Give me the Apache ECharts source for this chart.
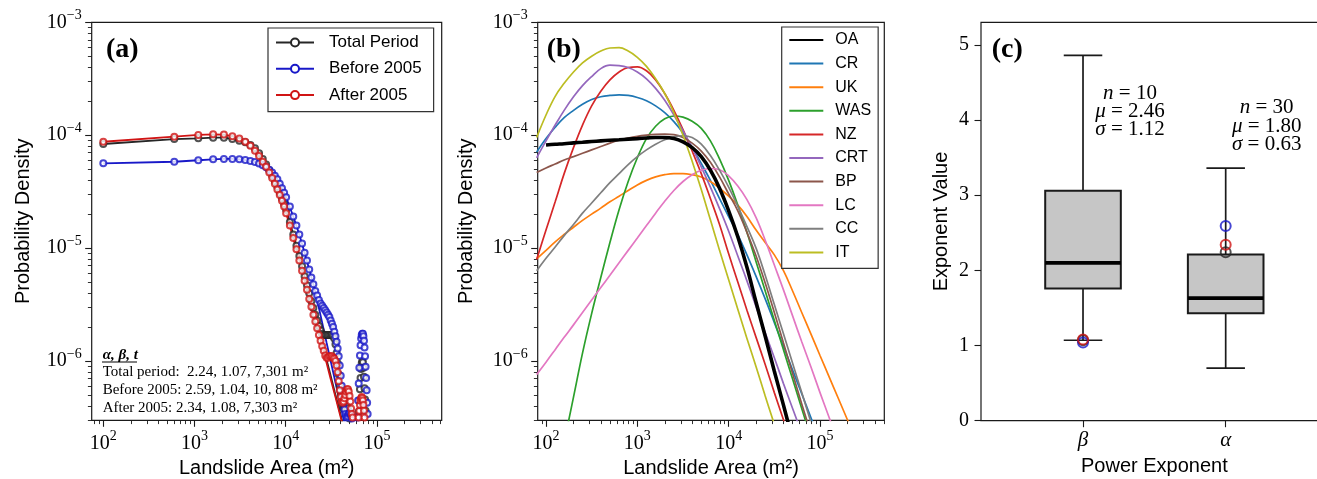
<!DOCTYPE html>
<html><head><meta charset="utf-8">
<script src="https://cdn.jsdelivr.net/npm/echarts@6/dist/echarts.min.js"></script>
<style>html,body{margin:0;padding:0;background:#fff}#c{width:1317px;height:479px}</style>
</head><body><div id="c"></div>
<script>
// ---------- Panel (a): landslide area grid (m2) and densities ----------
const areaA = [100,600,1100,1600,2100,2600,3100,3600,4100,4600,5100,5600,6100,6600,7100,7600,8100,8600,9100,9600,10100,
 11100,12100,13100,14100,15100,16100,17100,18100,19100,20100,21100,22100,23100,24100,25100,26100,27100,28100,29100,30100,
 31100,32100,33100,34100,35100,36100,37100,38100,39100,40100,41100,42100,43100,44100,45100,46100,47100,48100,49100,50100,
 51100,52100,53100,54100,55100,56100,57100,58100,59100,60100,61100,62100,63100,64100,65100,66100,67100,68100,69100,70100,
 71100,72100,73100,74100,75100,76100,77100,78100,79100,80100,81100,82100,83100,84100,85100,86100,87100,88100,89100,90100];
const totalKde = [8.36e-5,9.25e-5,9.38e-5,9.51e-5,9.51e-5,9.25e-5,8.95e-5,8.65e-5,8.18e-5,7.66e-5,6.92e-5,6.17e-5,5.50e-5,4.90e-5,4.37e-5,3.89e-5,3.47e-5,3.09e-5,2.75e-5,2.45e-5,2.19e-5,
 1.70e-5,1.32e-5,1.05e-5,8.51e-6,6.92e-6,5.62e-6,4.68e-6,3.98e-6,3.39e-6,2.95e-6,2.57e-6,2.29e-6,2.04e-6,1.86e-6,1.74e-6,1.70e-6,1.70e-6,1.70e-6,1.70e-6,1.70e-6,
 1.70e-6,1.70e-6,1.66e-6,1.585e-6,1.41e-6,1.175e-6,9.55e-7,7.59e-7,6.03e-7,5.01e-7,4.37e-7,3.98e-7,3.80e-7,3.80e-7,3.89e-7,3.98e-7,3.98e-7,3.80e-7,3.47e-7,3.09e-7,
 null,null,null,null,null,null,null,null,null,null,null,null,
 3.55e-7,4.47e-7,5.62e-7,7.08e-7,8.51e-7,9.55e-7,1.00e-6,9.77e-7,8.71e-7,7.24e-7,5.75e-7,4.57e-7,3.63e-7,
 null,null,null,null,null,null,null,null,null,null,null,null,null,null,null];
const beforeKde = [5.64e-5,5.82e-5,6.00e-5,6.11e-5,6.17e-5,6.17e-5,6.11e-5,6.03e-5,5.90e-5,5.78e-5,5.62e-5,5.43e-5,5.21e-5,4.95e-5,4.68e-5,4.37e-5,4.07e-5,3.72e-5,3.39e-5,3.09e-5,2.82e-5,
 2.34e-5,1.905e-5,1.585e-5,1.32e-5,1.10e-5,9.12e-6,7.76e-6,6.46e-6,5.50e-6,4.79e-6,4.17e-6,3.80e-6,3.47e-6,3.24e-6,3.09e-6,2.95e-6,2.82e-6,2.69e-6,2.57e-6,2.45e-6,
 2.29e-6,2.14e-6,2.00e-6,1.82e-6,1.66e-6,1.48e-6,1.29e-6,1.10e-6,9.12e-7,7.41e-7,6.03e-7,5.01e-7,4.27e-7,3.72e-7,3.39e-7,3.24e-7,3.16e-7,3.24e-7,3.39e-7,3.47e-7,3.47e-7,3.31e-7,3.09e-7,
 null,null,null,null,null,null,null,
 3.16e-7,4.47e-7,6.31e-7,8.71e-7,1.12e-6,1.38e-6,1.585e-6,1.70e-6,1.74e-6,1.74e-6,1.66e-6,1.51e-6,1.32e-6,1.10e-6,8.91e-7,7.08e-7,5.50e-7,4.27e-7,3.39e-7,
 null,null,null,null,null,null,null,null,null,null,null];
const afterKde = [8.75e-5,9.70e-5,1.005e-4,1.019e-4,1.012e-4,9.77e-5,9.33e-5,8.75e-5,8.07e-5,7.29e-5,6.55e-5,5.82e-5,5.25e-5,4.68e-5,4.17e-5,3.72e-5,3.31e-5,2.95e-5,2.63e-5,2.34e-5,2.04e-5,
 1.585e-5,1.23e-5,9.77e-6,7.76e-6,6.31e-6,5.13e-6,4.27e-6,3.55e-6,3.02e-6,2.57e-6,2.24e-6,1.95e-6,1.70e-6,1.51e-6,1.35e-6,1.23e-6,1.12e-6,1.07e-6,1.07e-6,1.10e-6,
 1.10e-6,1.10e-6,1.07e-6,1.05e-6,1.00e-6,9.12e-7,7.94e-7,6.61e-7,5.50e-7,4.79e-7,4.37e-7,4.27e-7,4.37e-7,4.68e-7,5.01e-7,5.37e-7,5.62e-7,5.62e-7,5.37e-7,4.90e-7,4.37e-7,3.80e-7,3.39e-7,3.16e-7,
 null,null,null,null,null,null,null,null,
 3.16e-7,3.63e-7,4.07e-7,4.47e-7,4.68e-7,4.79e-7,4.68e-7,4.47e-7,4.07e-7,3.63e-7,3.16e-7,
 null,null,null,null,null,null,null,null,null,null,null,null,null,null,null,null,null];
const fitAreaA = [100,600,1100,1600,2100,2600,3100,3600,4100,4600,5100,5600,6100,6600,7100,8100,9100,10100,12100,14100,16100,18100,20100,22100,25100,28100,31100,35100,40100,45100,50100];
const totalFit = [8.36e-5,9.25e-5,9.38e-5,9.51e-5,9.51e-5,9.25e-5,8.95e-5,8.65e-5,8.18e-5,7.66e-5,6.92e-5,6.17e-5,5.50e-5,4.90e-5,4.37e-5,3.47e-5,2.75e-5,2.19e-5,1.32e-5,8.51e-6,5.62e-6,3.98e-6,2.95e-6,2.19e-6,1.48e-6,1.02e-6,7.41e-7,5.01e-7,3.31e-7,2.24e-7,1.585e-7];
const beforeFit = [5.64e-5,5.82e-5,6.00e-5,6.11e-5,6.17e-5,6.17e-5,6.11e-5,6.03e-5,5.90e-5,5.78e-5,5.62e-5,5.43e-5,5.21e-5,4.95e-5,4.68e-5,4.07e-5,3.39e-5,2.82e-5,1.905e-5,1.32e-5,9.12e-6,6.46e-6,4.79e-6,3.47e-6,2.19e-6,1.445e-6,1.00e-6,6.46e-7,3.98e-7,2.63e-7,1.78e-7];
const afterFit = [8.75e-5,9.70e-5,1.005e-4,1.019e-4,1.012e-4,9.77e-5,9.33e-5,8.75e-5,8.07e-5,7.29e-5,6.55e-5,5.82e-5,5.25e-5,4.68e-5,4.17e-5,3.31e-5,2.63e-5,2.04e-5,1.23e-5,7.76e-6,5.13e-6,3.55e-6,2.57e-6,1.95e-6,1.35e-6,9.55e-7,6.92e-7,4.79e-7,3.16e-7,2.19e-7,1.585e-7];
const periodNames = ['Total Period','Before 2005','After 2005'];

// ---------- Panel (b): regional pdfs ----------
const areaB = [79,100,126,158,200,251,316,398,501,631,794,1000,1259,1585,1995,2512,3162,3981,5012,6310,7943,10000,12589,15849,19953,25119,31623,39811,50119,63096,79433,100000,125893,158489,199526,251189];
const regionNames = ['OA','CR','UK','WAS','NZ','CRT','BP','LC','CC','IT'];
const pdfOA  = [null,8.20e-5,8.32e-5,8.41e-5,8.55e-5,8.67e-5,8.79e-5,8.91e-5,9.02e-5,9.12e-5,9.23e-5,9.33e-5,9.44e-5,9.55e-5,9.55e-5,9.33e-5,8.71e-5,7.76e-5,6.46e-5,4.90e-5,3.39e-5,2.14e-5,1.26e-5,6.76e-6,3.31e-6,1.66e-6,8.13e-7,4.07e-7,2.00e-7,null,null,null,null,null,null,null];
const pdfCR  = [7.08e-5,9.33e-5,1.175e-4,1.43e-4,1.66e-4,1.88e-4,2.07e-4,2.19e-4,2.25e-4,2.28e-4,2.25e-4,2.16e-4,2.02e-4,1.82e-4,1.585e-4,1.32e-4,1.047e-4,7.76e-5,5.62e-5,3.98e-5,2.75e-5,1.905e-5,1.32e-5,8.71e-6,5.62e-6,3.55e-6,2.19e-6,1.35e-6,8.32e-7,5.13e-7,3.16e-7,1.95e-7,null,null,null,null];
const pdfUK  = [8.04e-6,9.55e-6,1.135e-5,1.32e-5,1.53e-5,1.76e-5,2.00e-5,2.26e-5,2.57e-5,2.88e-5,3.24e-5,3.63e-5,3.98e-5,4.27e-5,4.47e-5,4.57e-5,4.57e-5,4.47e-5,4.27e-5,3.89e-5,3.39e-5,2.88e-5,2.40e-5,1.905e-5,1.445e-5,1.12e-5,8.71e-6,6.31e-6,4.17e-6,2.69e-6,1.74e-6,1.12e-6,7.24e-7,4.68e-7,3.02e-7,1.95e-7];
const pdfWAS = [null,null,null,1.905e-7,4.79e-7,1.175e-6,2.63e-6,5.50e-6,1.12e-5,2.19e-5,3.89e-5,6.31e-5,9.33e-5,1.20e-4,1.40e-4,1.48e-4,1.445e-4,1.33e-4,1.15e-4,8.91e-5,6.17e-5,3.98e-5,2.40e-5,1.38e-5,7.59e-6,4.17e-6,2.29e-6,1.26e-6,6.92e-7,3.80e-7,2.09e-7,null,null,null,null,null];
const pdfNZ  = [7.94e-6,1.445e-5,2.57e-5,4.57e-5,7.76e-5,1.23e-4,1.82e-4,2.45e-4,3.09e-4,3.63e-4,3.98e-4,4.03e-4,3.72e-4,3.09e-4,2.34e-4,1.66e-4,1.12e-4,7.24e-5,4.57e-5,2.75e-5,1.62e-5,8.91e-6,5.01e-6,2.82e-6,1.62e-6,9.33e-7,5.25e-7,3.02e-7,1.70e-7,null,null,null,null,null,null,null];
const pdfCRT = [6.31e-5,8.91e-5,1.23e-4,1.66e-4,2.19e-4,2.75e-4,3.31e-4,3.89e-4,4.17e-4,4.14e-4,3.98e-4,3.63e-4,3.16e-4,2.60e-4,2.04e-4,1.51e-4,1.096e-4,7.76e-5,5.25e-5,3.47e-5,2.24e-5,1.41e-5,8.51e-6,5.13e-6,3.02e-6,1.78e-6,1.07e-6,6.31e-7,3.80e-7,2.29e-7,null,null,null,null,null,null];
const pdfBP  = [4.68e-5,5.13e-5,5.56e-5,6.03e-5,6.46e-5,6.92e-5,7.41e-5,7.94e-5,8.51e-5,9.02e-5,9.44e-5,9.77e-5,1.00e-4,1.016e-4,1.023e-4,1.012e-4,9.55e-5,8.51e-5,7.24e-5,5.75e-5,4.27e-5,3.02e-5,2.14e-5,1.38e-5,8.51e-6,4.90e-6,2.69e-6,1.445e-6,7.76e-7,4.17e-7,2.29e-7,null,null,null,null,null];
const pdfLC  = [7.59e-7,9.77e-7,1.26e-6,1.62e-6,2.09e-6,2.69e-6,3.47e-6,4.47e-6,5.75e-6,7.41e-6,9.55e-6,1.23e-5,1.585e-5,2.04e-5,2.60e-5,3.24e-5,3.89e-5,4.47e-5,4.90e-5,5.07e-5,4.95e-5,4.37e-5,3.55e-5,2.69e-5,1.86e-5,1.175e-5,7.08e-6,4.27e-6,2.51e-6,1.48e-6,8.91e-7,5.25e-7,3.16e-7,1.905e-7,null,null];
const pdfCC  = [6.31e-6,8.13e-6,1.023e-5,1.29e-5,1.62e-5,2.04e-5,2.51e-5,3.09e-5,3.80e-5,4.57e-5,5.50e-5,6.46e-5,7.41e-5,8.32e-5,9.12e-5,9.66e-5,9.89e-5,9.55e-5,8.32e-5,6.61e-5,4.90e-5,3.47e-5,2.34e-5,1.55e-5,1.00e-5,5.75e-6,3.16e-6,1.74e-6,9.55e-7,5.25e-7,2.88e-7,1.585e-7,null,null,null,null];
const pdfIT  = [9.55e-5,1.51e-4,2.21e-4,2.88e-4,3.63e-4,4.37e-4,5.01e-4,5.56e-4,5.92e-4,5.96e-4,5.56e-4,4.90e-4,4.07e-4,3.16e-4,2.34e-4,1.585e-4,1.00e-4,5.89e-5,3.31e-5,1.78e-5,9.55e-6,5.25e-6,2.88e-6,1.585e-6,8.91e-7,4.90e-7,2.75e-7,null,null,null,null,null,null,null,null,null];

// ---------- Panel (c): exponent box statistics ----------
const expCategories = ['β','α'];
const boxLow    = [1.07, 0.70];
const boxQ1     = [1.76, 1.43];
const boxMedian = [2.10, 1.63];
const boxQ3     = [3.06, 2.21];
const boxHigh   = [4.86, 3.36];
const betaByPeriod  = [1.07, 1.04, 1.08];
const alphaByPeriod = [2.24, 2.59, 2.34];
const boxNotes = [['n','10'],['μ','2.46'],['σ','1.12']];
const boxNotes2 = [['n','30'],['μ','1.80'],['σ','0.63']];

// ---------- helpers ----------
const lg = v => (v == null ? null : Math.log10(v));
const pairs = (xs, ys) => xs.map((x, i) => [lg(x), lg(ys[i])]);
const SERIF = 'Liberation Serif', SANS = 'Liberation Sans';
const INK = '#1a1a1a';
function logMinors(lo, hi) {
  const out = [];
  for (let n = -8; n <= 6; n++) for (let k = 2; k <= 9; k++) {
    const v = Math.log10(k * Math.pow(10, n));
    if (v > lo + 1e-6 && v < hi - 1e-6) out.push(v);
  }
  return out;
}
const supRich = {
  b: {fontFamily: SERIF, fontSize: 20, lineHeight: 28, color: '#000'},
  s: {fontFamily: SERIF, fontSize: 14, lineHeight: 14, verticalAlign: 'top', color: '#000'}
};
const X_A = [Math.log10(74.6), 5.71], X_B = [Math.log10(81.1), 5.704], Y_AB = [-6.525, -3];
const xMaj = [2, 3, 4, 5], yMaj = [-6, -5, -4, -3];

function majorAxis(dim, grid, ext, majors, name, nameGap) {
  return {
    type: 'value', gridIndex: grid, min: ext[0], max: ext[1],
    position: dim === 'x' ? 'bottom' : 'left',
    axisLine: {show: false, onZero: false}, splitLine: {show: false},
    axisTick: {show: true, length: 6.5, lineStyle: {color: INK, width: 1.1}, customValues: majors},
    axisLabel: {show: true, customValues: majors, margin: dim === 'x' ? 9 : 10, rich: supRich,
      formatter: v => dim === 'x' ? '{b|10}{s|' + Math.round(v) + '}' : '{b|10}{s|−' + Math.round(-v) + '}'},
    name: name, nameLocation: 'middle', nameGap: nameGap,
    nameTextStyle: {fontFamily: SANS, fontSize: 20, color: '#000'}
  };
}
function minorAxis(dim, grid, ext) {
  return {
    type: 'value', gridIndex: grid, min: ext[0], max: ext[1],
    position: dim === 'x' ? 'bottom' : 'left',
    axisLine: {show: false, onZero: false}, splitLine: {show: false},
    axisTick: {show: true, length: 3.8, lineStyle: {color: INK, width: 0.9}, customValues: logMinors(ext[0], ext[1])},
    axisLabel: {show: false}
  };
}

const gridBase = {top: 22.3, height: 398, show: true, borderColor: INK, borderWidth: 1.2, backgroundColor: '#fff', containLabel: false, outerBoundsMode: 'none'};

const periodColors = ['#262626', '#1818c8', '#d01414'];
const kdeSets = [totalKde, beforeKde, afterKde];
const fitSets = [totalFit, beforeFit, afterFit];
const regionColors = ['#000000','#1f77b4','#ff7f0e','#2ca02c','#d62728','#9467bd','#8c564b','#e377c2','#7f7f7f','#bcbd22'];
const regionSets = [pdfOA, pdfCR, pdfUK, pdfWAS, pdfNZ, pdfCRT, pdfBP, pdfLC, pdfCC, pdfIT];

const series = [];
periodNames.forEach((nm, i) => {
  series.push({
    type: 'line', name: nm, xAxisIndex: 0, yAxisIndex: 0, data: pairs(fitAreaA, fitSets[i]),
    showSymbol: false, symbol: 'emptyCircle', symbolSize: 7, clip: true,
    lineStyle: {color: periodColors[i], width: 1.8}, itemStyle: {color: periodColors[i]}, z: 2
  });
  series.push({
    type: 'scatter', name: nm, xAxisIndex: 0, yAxisIndex: 0, data: pairs(areaA, kdeSets[i]),
    symbol: 'emptyCircle', symbolSize: 6, clip: true,
    itemStyle: {color: periodColors[i], borderWidth: 1.7}, z: 2
  });
});
// panel (b): draw OA last so it sits on top
const drawOrder = [1,2,3,4,5,6,7,8,9,0];
drawOrder.forEach(i => {
  series.push({
    type: 'line', name: regionNames[i], xAxisIndex: 2, yAxisIndex: 2, data: pairs(areaB, regionSets[i]),
    showSymbol: false, symbol: 'none', smooth: 0.4, clip: true,
    lineStyle: {color: regionColors[i], width: i === 0 ? 3.6 : 1.7}, itemStyle: {color: regionColors[i]}, z: 2
  });
});
// panel (c): boxes
const boxHalf = 0.265, capHalf = 0.135;
series.push({
  type: 'custom', name: 'exponent boxes', xAxisIndex: 4, yAxisIndex: 4,
  data: expCategories.map((c, i) => [i + 1, boxLow[i], boxQ1[i], boxMedian[i], boxQ3[i], boxHigh[i]]),
  encode: {x: 0, y: [1, 2, 3, 4, 5]},
  renderItem: (params, api) => {
    const x = api.value(0), lo = api.value(1), q1 = api.value(2), md = api.value(3), q3 = api.value(4), hi = api.value(5);
    const p = (a, b) => api.coord([a, b]);
    const ln = (a, b, w, col) => ({type: 'line', shape: {x1: a[0], y1: a[1], x2: b[0], y2: b[1]}, style: {stroke: col || INK, lineWidth: w}});
    const tl = p(x - boxHalf, q3), br = p(x + boxHalf, q1);
    return {type: 'group', children: [
      ln(p(x, q3), p(x, hi), 1.7), ln(p(x, q1), p(x, lo), 1.7),
      ln(p(x - capHalf, hi), p(x + capHalf, hi), 1.7), ln(p(x - capHalf, lo), p(x + capHalf, lo), 1.7),
      {type: 'rect', shape: {x: tl[0], y: tl[1], width: br[0] - tl[0], height: br[1] - tl[1]}, style: {fill: '#c6c6c6', stroke: INK, lineWidth: 2}},
      ln(p(x - boxHalf, md), p(x + boxHalf, md), 3.8, '#000')
    ]};
  }, z: 2
});
periodNames.forEach((nm, i) => {
  series.push({
    type: 'scatter', name: nm + ' exponents', xAxisIndex: 4, yAxisIndex: 4,
    data: [[1, betaByPeriod[i]], [2, alphaByPeriod[i]]],
    symbol: 'circle', symbolSize: 10,
    itemStyle: {color: 'none', borderColor: periodColors[i], borderWidth: 2}, z: 3
  });
});

const noteRich = {i: {fontFamily: SERIF, fontStyle: 'italic', fontSize: 21, color: '#000'}, r: {fontFamily: SERIF, fontSize: 21, color: '#000'}};
const noteText = (pair, x, y) => ({type: 'text', x: x, y: y, z: 10,
  style: {text: '{i|' + pair[0] + '}{r| = ' + pair[1] + '}', rich: noteRich, align: 'center', verticalAlign: 'middle'}});
const plain = (t, x, y, font, align) => ({type: 'text', x: x, y: y, z: 10,
  style: {text: t, font: font, fill: '#000', align: align || 'left', verticalAlign: 'middle'}});

const graphic = [
  plain('(a)', 106, 49.5, 'bold 28px "Liberation Serif"'),
  plain('(b)', 546.7, 49.5, 'bold 28px "Liberation Serif"'),
  plain('(c)', 991.7, 49.5, 'bold 28px "Liberation Serif"'),
  plain('α, β, t', 102.7, 355.5, 'italic bold 15px "Liberation Serif"'),
  {type: 'line', z: 10, shape: {x1: 102, y1: 362, x2: 137, y2: 362}, style: {stroke: '#000', lineWidth: 1}},
  plain('Total period:  2.24, 1.07, 7,301 m²', 102.7, 372.5, '15px "Liberation Serif"'),
  plain('Before 2005: 2.59, 1.04, 10, 808 m²', 102.7, 390, '15px "Liberation Serif"'),
  plain('After 2005: 2.34, 1.08, 7,303 m²', 102.7, 408, '15px "Liberation Serif"'),
  noteText(boxNotes[0], 1130, 93), noteText(boxNotes[1], 1130, 111), noteText(boxNotes[2], 1130, 129.3),
  noteText(boxNotes2[0], 1266.7, 107.7), noteText(boxNotes2[1], 1266.7, 126), noteText(boxNotes2[2], 1266.7, 144.3)
];

const option = {
  animation: false,
  backgroundColor: '#fff',
  grid: [
    Object.assign({}, gridBase, {left: 91.7, width: 350}),
    Object.assign({}, gridBase, {left: 537.7, width: 346.6}),
    Object.assign({}, gridBase, {left: 981, width: 346.7, height: 398.4})
  ],
  xAxis: [
    majorAxis('x', 0, X_A, xMaj, 'Landslide Area (m²)', 37),
    minorAxis('x', 0, X_A),
    majorAxis('x', 1, X_B, xMaj, 'Landslide Area (m²)', 37),
    minorAxis('x', 1, X_B),
    {type: 'value', gridIndex: 2, min: 0.285, max: 2.715, position: 'bottom',
     axisLine: {show: false, onZero: false}, splitLine: {show: false},
     axisTick: {show: true, length: 6.5, lineStyle: {color: INK, width: 1.1}, customValues: [1, 2]},
     axisLabel: {show: true, customValues: [1, 2], margin: 9, fontFamily: SERIF, fontStyle: 'italic', fontSize: 21, color: '#000',
       formatter: v => expCategories[Math.round(v) - 1]},
     name: 'Power Exponent', nameLocation: 'middle', nameGap: 36,
     nameTextStyle: {fontFamily: SANS, fontSize: 20, color: '#000'}}
  ],
  yAxis: [
    majorAxis('y', 0, Y_AB, yMaj, 'Probability Density', 58),
    minorAxis('y', 0, Y_AB),
    majorAxis('y', 1, Y_AB, yMaj, 'Probability Density', 61.5),
    minorAxis('y', 1, Y_AB),
    {type: 'value', gridIndex: 2, min: 0, max: 5.3, position: 'left',
     axisLine: {show: false, onZero: false}, splitLine: {show: false},
     axisTick: {show: true, length: 6.5, lineStyle: {color: INK, width: 1.1}, customValues: [0, 1, 2, 3, 4, 5]},
     axisLabel: {show: true, customValues: [0, 1, 2, 3, 4, 5], margin: 12, fontFamily: SERIF, fontSize: 20, color: '#000',
       formatter: v => String(Math.round(v))},
     name: 'Exponent Value', nameLocation: 'middle', nameGap: 30,
     nameTextStyle: {fontFamily: SANS, fontSize: 20, color: '#000'}}
  ],
  legend: [
    {data: periodNames, orient: 'vertical', left: 268, top: 28, itemWidth: 38, itemHeight: 10, itemGap: 9.3,
     padding: [6, 12, 8, 7], borderColor: '#333', borderWidth: 1.2, borderRadius: 0, backgroundColor: '#fff',
     selectedMode: false, textStyle: {fontFamily: SANS, fontSize: 17, color: '#000', padding: [0, 0, 0, 10]}},
    {data: regionNames, orient: 'vertical', left: 781.7, top: 27, itemWidth: 34, itemHeight: 8, itemGap: 7.6,
     padding: [5, 7, 8, 6.6], borderColor: '#333', borderWidth: 1.2, borderRadius: 0, backgroundColor: '#fff',
     selectedMode: false, itemStyle: {opacity: 0},
     textStyle: {fontFamily: SANS, fontSize: 16, color: '#000', padding: [0, 0, 0, 7]}}
  ],
  graphic: graphic,
  series: series
};
const chart = echarts.init(document.getElementById('c'), null, {renderer: 'canvas', width: 1317, height: 479});
chart.setOption(option);
</script></body></html>
